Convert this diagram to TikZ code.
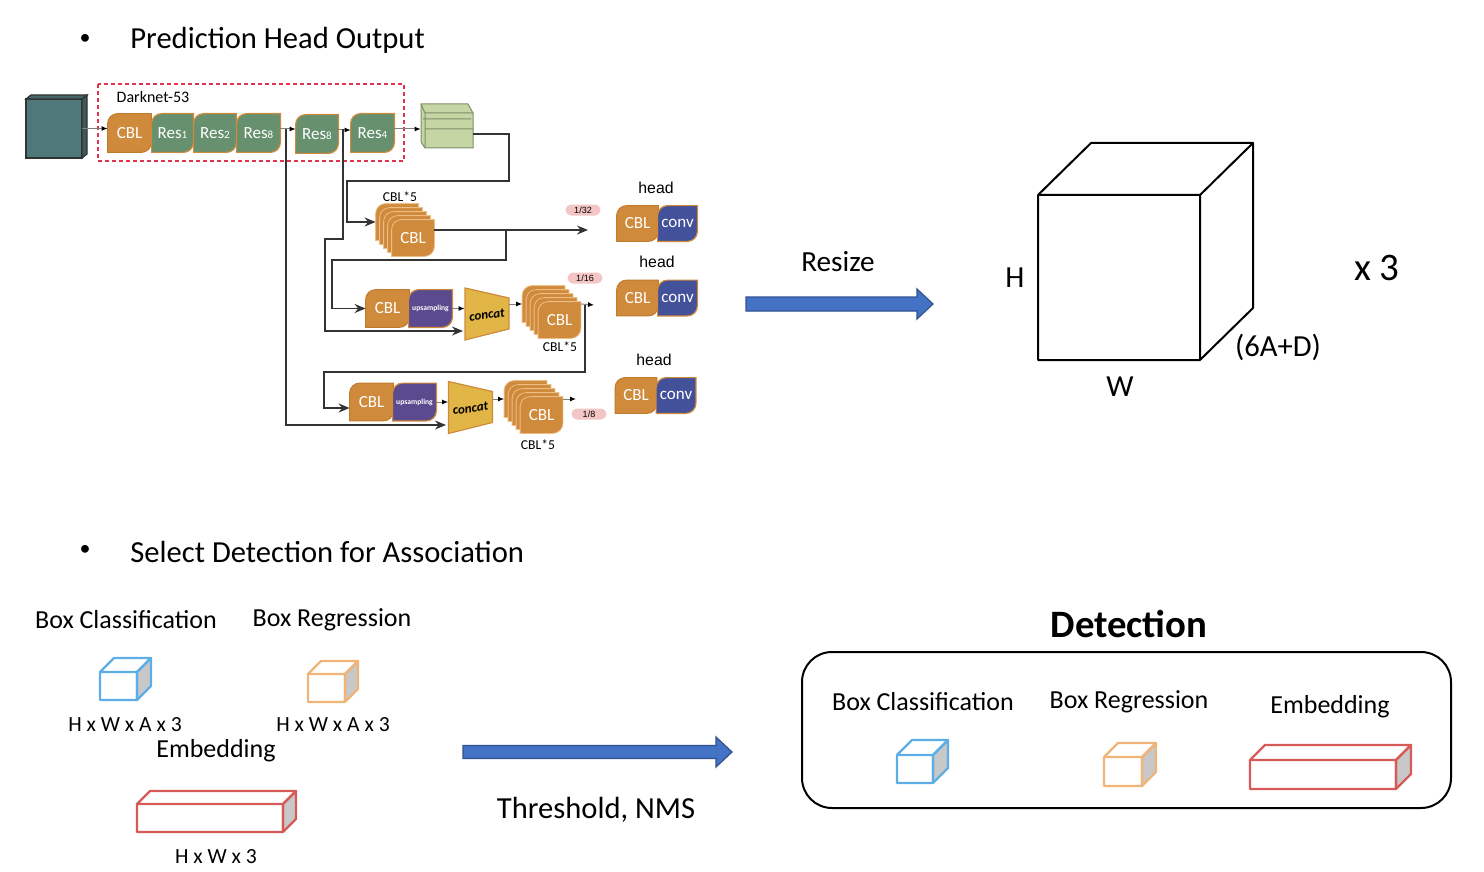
\documentclass[tikz,border=0pt]{standalone}
\usepackage{fontspec}
\usepackage{graphicx}
\setmainfont{Carlito}
\newfontfamily\arialf{Liberation Sans}
\usetikzlibrary{arrows.meta,backgrounds}

\definecolor{cblor}{HTML}{CF8A3B}
\definecolor{cblln}{HTML}{C27B2D}
\definecolor{stkln}{HTML}{EDBE86}
\definecolor{resgr}{HTML}{66906E}
\definecolor{uppur}{HTML}{5B4A8E}
\definecolor{convbl}{HTML}{43509A}
\definecolor{catyl}{HTML}{E1B546}
\definecolor{tealc}{HTML}{4E7879}
\definecolor{fmgr}{HTML}{C4D6A4}
\definecolor{fmln}{HTML}{7E8F6A}
\definecolor{pillpk}{HTML}{F3C5C5}
\definecolor{dkred}{HTML}{E03350}
\definecolor{arrbl}{HTML}{4472C4}
\definecolor{arrln}{HTML}{2F528F}
\definecolor{cubebl}{HTML}{5DAEE6}
\definecolor{cubeor}{HTML}{F0B478}
\definecolor{cubered}{HTML}{D65A57}
\definecolor{sidegr}{HTML}{C8C8C8}
\definecolor{lnk}{HTML}{333333}

% leaf shaped block body, put behind its node
\newcommand{\leafbg}[2]{%
  \begin{scope}[on background layer]
    \filldraw[#2] (#1.north east) -- ([yshift=5pt]#1.south east)
      arc[start angle=0,end angle=-90,radius=5pt] -- (#1.south west)
      -- ([yshift=-5pt]#1.north west)
      arc[start angle=180,end angle=90,radius=5pt] -- cycle;
  \end{scope}}
\newcommand{\rsub}[1]{{\fontsize{5.5}{6}\selectfont #1}}

\begin{document}
\begin{tikzpicture}
[x=0.5pt,y=-0.5pt,
  lbl/.style={inner sep=0pt},
  blk/.style={inner sep=0pt,minimum height=19pt,text=white,font=\fontsize{8.5}{9}\selectfont},
  cblfill/.style={fill=cblor,draw=cblln,line width=0.5pt},
  resfill/.style={fill=resgr,draw=cblor,line width=0.6pt},
  upfill/.style={fill=uppur,draw=cblor,line width=0.6pt},
  convfill/.style={fill=convbl,draw=cblor,line width=0.6pt},
  stkfill/.style={fill=cblor,draw=stkln,line width=0.4pt},
  catfill/.style={fill=catyl,draw=cblor,line width=0.6pt},
  tarr/.style={draw=gray,line width=0.5pt,-{Latex[length=3pt,width=2.5pt,color=black]}},
  lnarr/.style={draw=lnk,line width=0.8pt,-{Stealth[length=5.5pt,width=4.5pt]}},
  pill/.style={fill=pillpk,rounded corners=2.7pt,minimum width=17.5pt,minimum height=5.5pt,inner sep=0pt,font=\arialf\fontsize{4.5}{5}\selectfont},
  small/.style={lbl,font=\fontsize{6.8}{7}\selectfont},
  headlbl/.style={lbl,font=\arialf\fontsize{7.9}{8}\selectfont},
  big/.style={lbl,font=\fontsize{15.3}{16}\selectfont},
  mid/.style={lbl,font=\fontsize{13}{14}\selectfont},
  dims/.style={lbl,font=\fontsize{10.8}{11}\selectfont},
  upt/.style={lbl,text=white,font=\bfseries\fontsize{3.8}{4}\selectfont},
  barrow/.style={fill=arrbl,draw=arrln,line width=0.6pt},
  sml/.style={line width=1.1pt,line join=round}]
\useasboundingbox (0,0) rectangle (1484,872);

%% titles
\node[lbl,font=\fontsize{11}{12}\selectfont] (bul1) at (85,39) {\textbullet};
\node[big,anchor=west] (ttl1) at (130,40) {Prediction Head Output};
\node[lbl,font=\fontsize{11}{12}\selectfont] (bul2) at (85,550) {\textbullet};
\node[big,anchor=west] (ttl2) at (130,552) {Select Detection for Association};

%% input image
\filldraw[fill=tealc,draw=black!80,line width=0.6pt] (26,99) rectangle (82,158);
\filldraw[fill=tealc!75!black,draw=black!80,line width=0.6pt] (82,99) -- (87,95) -- (87,154) -- (82,158) -- cycle;
\filldraw[fill=tealc!85!black,draw=black!80,line width=0.6pt] (26,99) -- (31,95) -- (87,95) -- (82,99) -- cycle;
\node[lbl,minimum width=28pt,minimum height=29.5pt] (img) at (54,128.5) {};

%% backbone
\draw[dkred,line width=0.6pt,dash pattern=on 2pt off 1.5pt] (98,84) rectangle (404,161);
\node[lbl,font=\fontsize{8}{9}\selectfont] (dnet) at (153,97) {Darknet-53};
\foreach \nm/\x/\y/\w/\cl/\tx in {cbl0/129.5/133/43/cblfill/CBL,
  res1/172.5/133/41/resfill/Res\rsub{1}, res2/215/133/42/resfill/Res\rsub{2},
  res8a/258.5/133/43/resfill/Res\rsub{8}, res8b/317/134/42/resfill/Res\rsub{8},
  res4/372.5/133/43/resfill/Res\rsub{4}}
{
  \node[blk,minimum width=\w*0.5pt] (\nm) at (\x,\y) {\tx};
  \leafbg{\nm}{\cl}
}

%% feature map
\filldraw[fill=fmgr,draw=fmln,line width=0.5pt] (421,104) -- (468,104) -- (473,113) -- (473,148) -- (425,148) -- (421,142) -- cycle;
\draw[fmln,line width=0.5pt] (421,104) -- (425,113) -- (473,113) (425,113) -- (425,148) (423,119) -- (471,119) (425,129) -- (473,129);
\node[lbl,minimum width=26pt,minimum height=22pt] (fmap) at (447,126) {};

%% CBL*5 stacks
\foreach \s/\x/\y in {stk1/397/222, stk2/543.5/304, stk3/525.5/399}
  \foreach \k in {0,...,4}
  {
    \node[blk,minimum width=21pt,minimum height=18pt] (\s-\k) at (\x+4*\k,\y+4*\k) {\ifnum\k=4 CBL\fi};
    \leafbg{\s-\k}{stkfill}
  }
\node[small] (n5a) at (400,197) {CBL*5};
\node[small] (n5b) at (560,347) {CBL*5};
\node[small] (n5c) at (538,445) {CBL*5};

%% upsampling rows
\foreach \nm/\x/\y/\cl/\tx in {cbl2/387.5/308.5/cblfill/CBL, up2/430.5/308.5/upfill/,
  cbl3/371.5/402/cblfill/CBL, up3/414.5/402/upfill/}
{
  \node[blk,minimum width=21.5pt,minimum height=18.5pt] (\nm) at (\x,\y) {\tx};
  \leafbg{\nm}{\cl}
}
\node[upt] (upt2) at (up2) {upsampling};
\node[upt] (upt3) at (up3) {upsampling};
\foreach \nm/\x/\y in {cat2/487/314, cat3/470.5/407.5}
{
  \filldraw[catfill] (\x-22,\y-26) -- (\x+22,\y-16) -- (\x+22,\y+15) -- (\x-22,\y+26) -- cycle;
  \node[lbl,minimum width=22pt,minimum height=8pt,font=\bfseries\itshape\fontsize{6.5}{7}\selectfont] (\nm) at (\x,\y+1) {\rotatebox{8}{concat}};
}

%% scale tags
\node[pill] (p32) at (583,210) {1/32};
\node[pill] (p16) at (585,278) {1/16};
\node[pill] (p8) at (589,414) {1/8};

%% heads
\node[headlbl] (hd1) at (656,188) {head};
\node[headlbl] (hd2) at (657,262) {head};
\node[headlbl] (hd3) at (654,360) {head};
\foreach \nm/\x/\y/\w/\cl/\tx in {h1c/637.5/223.5/41/cblfill/CBL, h1v/677.5/223.5/39/convfill/conv,
  h2c/637.5/298/41/cblfill/CBL, h2v/677.5/298/39/convfill/conv,
  h3c/636/395.5/41/cblfill/CBL, h3v/676/395.5/39/convfill/conv}
{
  \node[blk,minimum width=\w*0.5pt,minimum height=17.5pt] (\nm) at (\x,\y) {\tx};
  \leafbg{\nm}{\cl}
}

%% connectors
\coordinate (br1) at (286,129);
\coordinate (br2) at (343,129);
\coordinate (k1) at (325,239);
\coordinate (c2in) at (463,331);
\coordinate (c3in) at (446,425);
\coordinate (k2) at (509,181);
\coordinate (k3) at (347,181);
\coordinate (o32) at (588,230);
\coordinate (k4) at (506,230);
\coordinate (k5) at (332,260);
\coordinate (o16) at (594,305);
\coordinate (k6) at (585,305);
\coordinate (k7) at (324,372);
\coordinate (o8) at (576,399);
\draw[tarr] (img.east) -- (img.east -| cbl0.west);
\draw[tarr] ([yshift=2pt]res8a.east) -- ([yshift=2pt]res8a.east -| res8b.west);
\draw[tarr] ([yshift=2pt]res8b.east) -- ([yshift=2pt]res8b.east -| res4.west);
\draw[tarr] ([yshift=2pt]res4.east) -- ([yshift=2pt]res4.east -| fmap.west);
\draw[lnarr] (br1) |- (c3in);
\draw[lnarr] (br2) |- (k1) |- (c2in);
\draw[lnarr] ([yshift=-4pt]fmap.east) -| (k2) -- (k3) |- (stk1-0.west);
\draw[lnarr] ([yshift=4pt]stk1-4.east) -- (o32);
\draw[lnarr] (k4) |- (k5) |- (cbl2.west);
\draw[tarr] (up2.east) -- (up2.east -| cat2.west);
\draw[tarr] (stk2-0.west -| cat2.east) -- (stk2-0.west);
\draw[tarr] (stk2-0.east -| stk2-4.east) -- (o16);
\draw[lnarr] (k6) |- (k7) |- ([yshift=-3pt]cbl3.west);
\draw[tarr] (up3.east) -- (up3.east -| cat3.west);
\draw[tarr] (stk3-0.west -| cat3.east) -- (stk3-0.west);
\draw[tarr] (stk3-0.east -| stk3-4.east) -- (o8);

%% block arrows
\foreach \xa/\xb/\yc/\sh in {746/933/304/7, 463/732/752/6.5}
  \filldraw[barrow] (\xa,\yc-\sh) -- (\xb-16,\yc-\sh) -- (\xb-16,\yc-15) -- (\xb,\yc)
    -- (\xb-16,\yc+15) -- (\xb-16,\yc+\sh) -- (\xa,\yc+\sh) -- cycle;
\node[lbl,font=\fontsize{14.6}{15}\selectfont] (rsz) at (838,262) {Resize};
\node[big] (thr) at (596,810) {Threshold, NMS};

%% output tensor
\draw[line width=1pt,line join=round] (1038,195) rectangle (1200,360)
  (1038,195) -- (1091,143) -- (1253,143) -- (1200,195)
  (1253,143) -- (1253,308) -- (1200,360);
\node[big] (hh) at (1015,278) {H};
\node[big] (ww) at (1120,387) {W};
\node[big] (dd) at (1278,347) {(6A+D)};
\node[lbl,font=\fontsize{19.5}{20}\selectfont] (x3) at (1377,268) {x 3};

%% outputs
\node[mid] (bc) at (126,620) {Box Classification};
\node[mid] (br) at (332,620) {Box Regression};
\node[dims] (dm1) at (125,725) {H x W x A x 3};
\node[dims] (dm2) at (333,725) {H x W x A x 3};
\node[mid] (emb) at (216,751) {Embedding};
\node[dims] (dm3) at (216,857) {H x W x 3};
\node[lbl,font=\bfseries\fontsize{19.4}{20}\selectfont] (det) at (1129,624) {Detection};
\node[draw,line width=1pt,rounded corners=15pt,minimum width=324.5pt,minimum height=78pt,inner sep=0pt] (detbox) at (1126.5,730) {};
\node[mid] (dbc) at (923,702) {Box Classification};
\node[mid] (dbr) at (1129,702) {Box Regression};
\node[mid] (demb) at (1330,707) {Embedding};
\foreach \x/\y/\w/\h/\d/\cl in {100/672/37/28/14/cubebl, 308/674/37/28/13/cubeor,
  137/804/146/28/13/cubered, 897/755/36/28/15/cubebl, 1104/757/38/29/14/cubeor,
  1250/760/146/29/15/cubered}
{
  \filldraw[fill=sidegr,draw=\cl,sml] (\x+\w,\y) -- (\x+\w+\d,\y-\d) -- (\x+\w+\d,\y+\h-\d) -- (\x+\w,\y+\h) -- cycle;
  \draw[\cl,sml] (\x,\y) -- (\x+\d,\y-\d) -- (\x+\w+\d,\y-\d) -- (\x+\w,\y) (\x,\y) rectangle (\x+\w,\y+\h);
}
\end{tikzpicture}
\end{document}
